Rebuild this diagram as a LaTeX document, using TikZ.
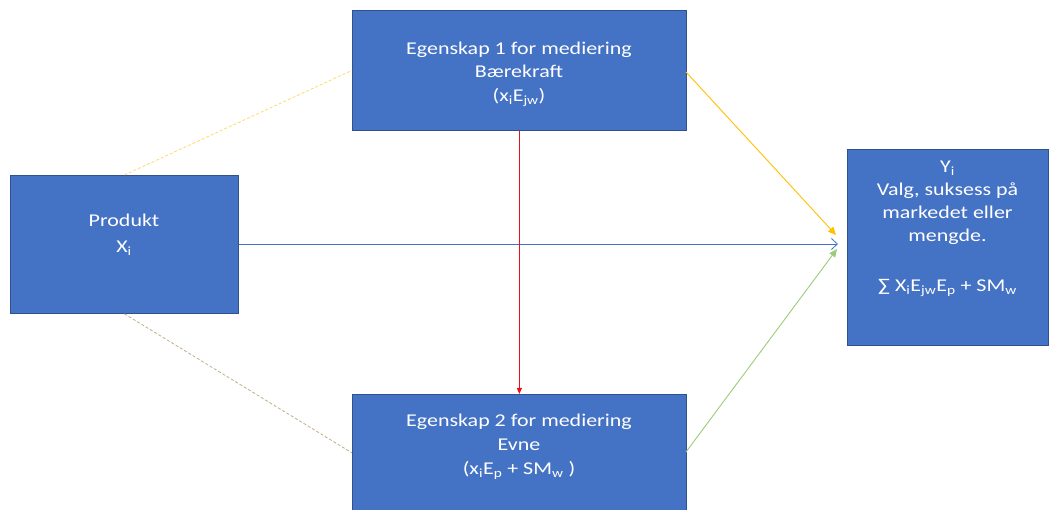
\documentclass[tikz,border=0pt]{standalone}
\usepackage{fontspec}
\setmainfont{Carlito}[FakeStretch=1.22]
\usetikzlibrary{arrows.meta}
\definecolor{boxfill}{HTML}{4472C4}
\definecolor{boxline}{HTML}{2F528F}
\definecolor{linkyellow}{HTML}{FFD966}
\definecolor{linktan}{HTML}{BFAE88}
\definecolor{arrowyellow}{HTML}{FFC000}
\definecolor{arrowgreen}{HTML}{9CCB7A}
\definecolor{arrowred}{HTML}{E8101A}
\newcommand{\sbs}[1]{\textsubscript{#1}}
\tikzset{
  block/.style={draw=boxline, line width=0.8pt, fill=boxfill, inner sep=0pt, anchor=north west},
  txt/.style={text=white, font=\fontsize{18}{22}\selectfont, inner sep=0pt, anchor=base},
  dashlink/.style={dashed, dash pattern=on 3pt off 2pt, line width=0.8pt},
}
\begin{document}
\begin{tikzpicture}[x=1pt, y=-1pt]
\useasboundingbox (0,0) rectangle (1050,510);

% boxes
\node[block, minimum width=334pt, minimum height=120pt] (e1) at (352,10) {};
\node[block, minimum width=228pt, minimum height=138pt] (prod) at (10,175) {};
\node[block, minimum width=334pt, minimum height=117pt] (e2) at (352,394) {};
\node[block, minimum width=201pt, minimum height=196pt] (y) at (847,149) {};

% mediator 1
\node[txt] (e1a) at (519,55) {Egenskap 1 for mediering};
\node[txt] (e1b) at (519,78) {Bærekraft};
\node[txt] (e1c) at (519,102) {(x\sbs{i}E\sbs{jw})};

% product
\node[txt] (pa) at (124,227) {Produkt};
\node[txt] (pb) at (124,253) {X\sbs{i}};

% mediator 2
\node[txt] (e2a) at (519,427) {Egenskap 2 for mediering};
\node[txt] (e2b) at (519,450) {Evne};
\node[txt] (e2c) at (519,475) {(x\sbs{i}E\sbs{p} + SM\sbs{w} )};

% outcome
\node[txt] (ya) at (947.5,173) {Y\sbs{i}};
\node[txt] (yb) at (947.5,196) {Valg, suksess på};
\node[txt] (yc) at (947.5,219) {markedet eller};
\node[txt] (yd) at (947.5,242) {mengde.};
\node[txt] (ye) at (947.5,292) {∑ X\sbs{i}E\sbs{jw}E\sbs{p} + SM\sbs{w}};

% end points just in front of the outcome box
\coordinate (tipA) at (836,235);
\coordinate (tipB) at (838,244);
\coordinate (tipC) at (837,249);
\coordinate (srcA) at (686,72);
\coordinate (srcC) at (686,452);

% connectors
\draw[dashlink, linkyellow] (prod.north) -- (e1.west);
\draw[dashlink, linktan] (prod.south) -- (e2.west);
\draw[boxfill, line width=0.8pt, -{Straight Barb[length=6pt, width=11pt]}] (prod.east |- tipB) -- (tipB);
\draw[arrowred, line width=0.9pt, -{Triangle[length=6pt, width=5pt]}] (e1.south) -- (e2.north);
\draw[arrowyellow, line width=0.9pt, -{Triangle[length=8pt, width=7pt]}] (srcA) -- (tipA);
\draw[arrowgreen, line width=0.9pt, -{Triangle[length=8pt, width=7pt]}] (srcC) -- (tipC);
\end{tikzpicture}
\end{document}
